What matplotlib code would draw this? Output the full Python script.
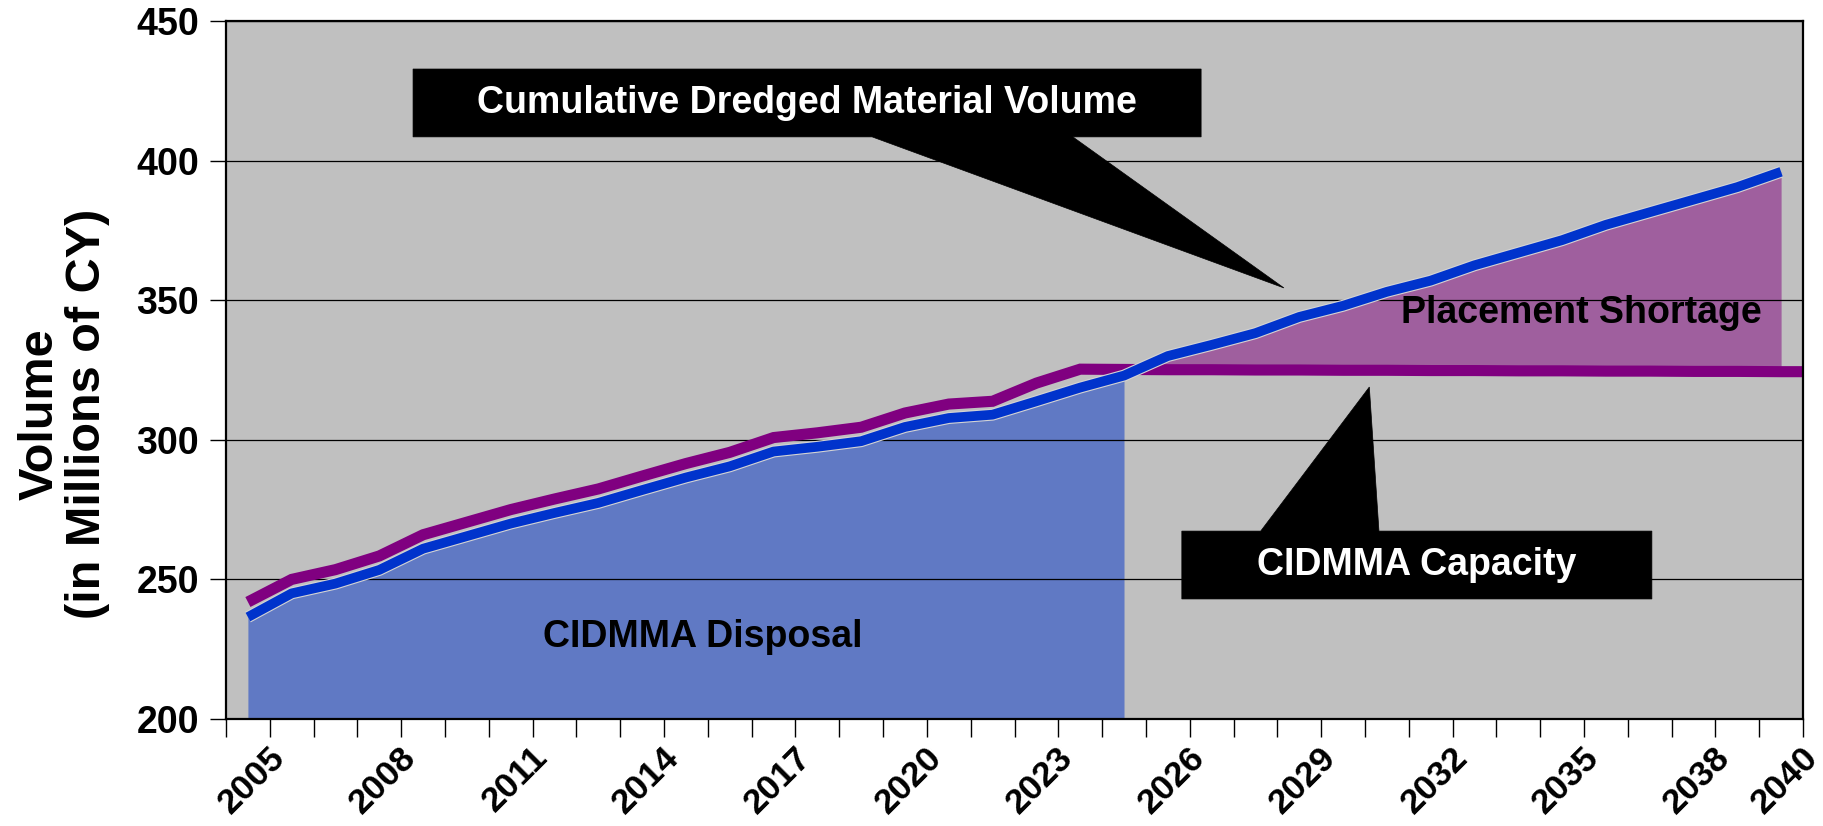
import numpy as np
import matplotlib
matplotlib.use("Agg")
import matplotlib.pyplot as plt
import matplotlib.patheffects as pe
from matplotlib.patches import Polygon
from matplotlib.transforms import ScaledTranslation

plt.rcParams['font.family'] = ['Liberation Sans', 'DejaVu Sans']
plt.rcParams['font.weight'] = 'bold'

# ---------------- data ----------------
years = list(range(2005, 2041))
dredged = [236.5, 245.0, 248.5, 253.4, 261.0, 265.5, 270.0, 273.8, 277.4, 282.0,
           286.5, 290.5, 295.8, 297.5, 299.5, 304.6, 307.8, 309.0, 313.8, 318.7,
           323.0, 330.0, 334.0, 338.2, 344.0, 348.0, 353.0, 357.0, 362.5, 367.0,
           371.5, 377.0, 381.5, 386.0, 390.5, 396.0]
capacity = [241.9, 250.0, 253.5, 258.4, 266.0, 270.5, 275.0, 278.8, 282.4, 287.0,
            291.5, 295.5, 300.8, 302.5, 304.5, 309.6, 312.8, 313.8, 320.3, 325.3,
            325.2, 325.1, 325.1, 325.0, 325.0, 324.9, 324.9, 324.8, 324.8, 324.7,
            324.7, 324.6, 324.6, 324.5, 324.5, 324.4]
disposal_end = 2025
label_years = [2005, 2008, 2011, 2014, 2017, 2020, 2023, 2026, 2029, 2032, 2035, 2038, 2040]
yticks = [200, 250, 300, 350, 400, 450]

# ---------------- style ----------------
BG = '#C0C0C0'
BLUE = '#0033CC'
BLUE_FILL = '#6079C4'
PURPLE = '#800080'
SHORT_FILL = '#9F5F9E'

W, H = 1824, 826
fig = plt.figure(figsize=(W / 100, H / 100), dpi=100)
ax = fig.add_axes([226 / W, 1 - 719 / H, (1803 - 226) / W, (719 - 21) / H])
ax.set_facecolor(BG)

yrs = np.array(years, dtype=float)
dr = np.array(dredged)
cap = np.array(capacity)

ax.set_xlim(yrs[0] - 0.5, yrs[-1] + 0.5)
ax.set_ylim(yticks[0], yticks[-1])

# disposal area
m = yrs <= disposal_end
ax.fill_between(yrs[m], dr[m], yticks[0], color=BLUE_FILL, lw=0, zorder=1)
# shortage area
ax.fill_between(yrs, dr, cap, where=dr >= cap, interpolate=True,
                color=SHORT_FILL, lw=0, zorder=1)

# grid
ax.set_yticks(yticks)
ax.yaxis.grid(True, color='black', lw=0.9)
ax.set_axisbelow(False)
for gl in ax.get_ygridlines():
    gl.set_zorder(1.5)

# capacity line (extends to right edge)
xr = ax.get_xlim()[1]
ax.plot(list(yrs) + [xr], list(cap) + [cap[-1]], color=PURPLE, lw=8,
        solid_capstyle='butt', solid_joinstyle='miter', zorder=3)
# cumulative dredged line
ax.plot(yrs, dr, color=BLUE, lw=7, solid_capstyle='butt', zorder=4,
        path_effects=[pe.Stroke(linewidth=8.6, foreground='#D4D4D4'), pe.Normal()])

# axes styling
for s in ax.spines.values():
    s.set_color('black')
    s.set_linewidth(1.6)
    s.set_zorder(6)

ax.tick_params(axis='y', direction='out', length=11.5, width=1, pad=8,
               labelsize=27, colors='black')
for lab in ax.get_yticklabels():
    lab.set_fontweight('bold')

ax.set_xticks(label_years)
ax.set_xticklabels([str(y) for y in label_years], fontsize=25.5, fontweight='bold')
ax.set_xticks(np.arange(yrs[0] - 0.5, yrs[-1] + 0.51, 1.0), minor=True)
ax.tick_params(axis='x', which='major', length=0, pad=15.5)
ax.tick_params(axis='x', which='minor', length=13, width=1, direction='out')
off = ScaledTranslation(20 / 100, 0, fig.dpi_scale_trans)
for lab in ax.get_xticklabels():
    lab.set_rotation(45)
    lab.set_ha('right')
    lab.set_va('top')
    lab.set_rotation_mode('anchor')
    lab.set_transform(lab.get_transform() + off)

# y label
fig.text(64 / W, 1 - 414 / H, "Volume\n(in Millions of CY)", rotation=90,
         ha='center', va='center', multialignment='center', fontsize=35,
         fontweight='bold', linespacing=1.05)

# callouts
def callout(x0, x1, y0, y1, wb1, wb2, tip, top_side):
    if top_side:  # wedge rises from top of box
        verts = [(x0, y0), (x1, y0), (x1, y1), (wb2, y1), tip, (wb1, y1), (x0, y1)]
    else:         # wedge hangs from bottom of box
        verts = [(x0, y1), (x1, y1), (x1, y0), (wb2, y0), tip, (wb1, y0), (x0, y0)]
    ax.add_patch(Polygon(verts, closed=True, facecolor='black', edgecolor='black',
                         lw=0.5, zorder=5))

callout(2008.77, 2026.76, 408.5, 432.8, 2019.25, 2023.83, (2028.65, 354.4), False)
ax.text((2008.77 + 2026.76) / 2, (408.5 + 432.8) / 2, "Cumulative Dredged Material Volume",
        color='white', fontsize=27, fontweight='bold', ha='center', va='center', zorder=6)

callout(2026.32, 2037.05, 243.0, 267.3, 2028.12, 2030.82, (2030.6, 318.9), True)
ax.text((2026.32 + 2037.05) / 2, (243.0 + 267.3) / 2, "CIDMMA Capacity",
        color='white', fontsize=27, fontweight='bold', ha='center', va='center', zorder=6)

ax.text(2015.39, 229.4, "CIDMMA Disposal", color='black', fontsize=27,
        fontweight='bold', ha='center', va='center', zorder=6)
ax.text(2035.43, 345.4, "Placement Shortage", color='black', fontsize=27,
        fontweight='bold', ha='center', va='center', zorder=6)

fig.savefig("out.png", dpi=100, facecolor='white')
